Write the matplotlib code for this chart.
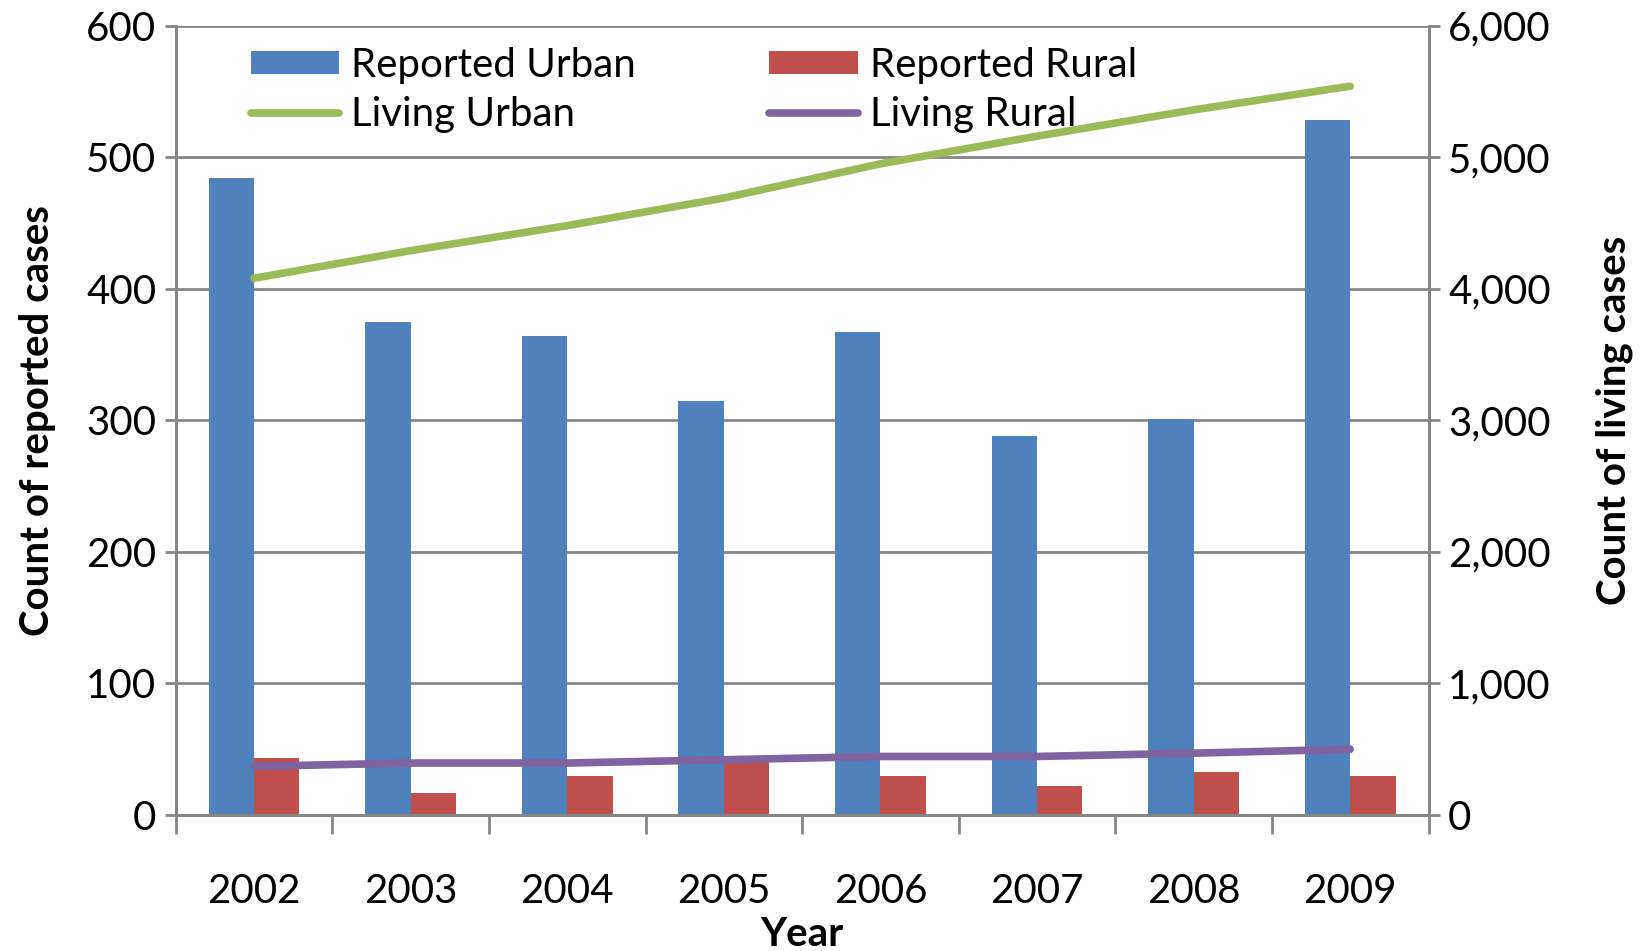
import numpy as np
import matplotlib.pyplot as plt
from matplotlib.ticker import FuncFormatter

years = ['2002', '2003', '2004', '2005', '2006', '2007', '2008', '2009']
reported_urban = [484, 375, 364, 315, 367, 288, 301, 528]
reported_rural = [43, 17, 30, 41, 30, 22, 33, 30]
living_urban = [4080, 4290, 4480, 4690, 4950, 5160, 5360, 5540]
living_rural = [370, 395, 395, 420, 445, 445, 470, 500]

plt.rcParams['font.family'] = ['Lato', 'DejaVu Sans']
grey = '#868686'
fs = 29

fig = plt.figure(figsize=(16.42, 9.51), dpi=100)
ax = fig.add_axes([0.107, 0.143, 0.763, 0.830])
ax2 = ax.twinx()

x = np.arange(len(years))
w = 0.29
b1 = ax.bar(x - w / 2, reported_urban, w, color='#4F81BD', label='Reported Urban', zorder=2)
b2 = ax.bar(x + w / 2, reported_rural, w, color='#C0504D', label='Reported Rural', zorder=2)
l1, = ax2.plot(x, living_urban, color='#9BBB59', lw=5.5, solid_capstyle='round', label='Living Urban')
l2, = ax2.plot(x, living_rural, color='#8064A2', lw=5.5, solid_capstyle='round', label='Living Rural')

ax.set_xlim(-0.5, len(years) - 0.5)
ax.set_ylim(0, 600)
ax.set_yticks(range(0, 601, 100))
ax2.set_ylim(0, 6000)
ax2.set_yticks(range(0, 6001, 1000))
ax2.yaxis.set_major_formatter(FuncFormatter(lambda v, p: f'{int(v):,}'))

ax.yaxis.grid(True, color=grey, lw=2, zorder=0)
ax.set_axisbelow(True)

for a in (ax, ax2):
    for s in a.spines.values():
        s.set_color(grey)
        s.set_linewidth(2)
ax.spines['top'].set_visible(False)
ax2.spines['top'].set_visible(False)

ax.set_xticks(x)
ax.set_xticklabels(years)
ax.tick_params(axis='x', length=0, pad=42, labelsize=fs)
ax.set_xticks(np.arange(-0.5, len(years)), minor=True)
ax.tick_params(axis='x', which='minor', length=14, width=2, color=grey, direction='out')
ax.tick_params(axis='y', length=8, width=2, color=grey, labelsize=fs, pad=6)
ax2.tick_params(axis='y', length=8, width=2, color=grey, labelsize=fs, pad=6)

ax.set_xlabel('Year', fontsize=fs, fontweight='bold', labelpad=4)
ax.set_ylabel('Count of reported cases', fontsize=fs, fontweight='bold', labelpad=22)
ax2.set_ylabel('Count of living cases', fontsize=fs, fontweight='bold', labelpad=32)

ax2.legend([b1, l1, b2, l2], ['Reported Urban', 'Living Urban', 'Reported Rural', 'Living Rural'],
           ncol=2, loc='upper left', bbox_to_anchor=(0.031, 1.019), frameon=False,
           fontsize=fs, handlelength=2.2, handleheight=0.5, handletextpad=0.3,
           columnspacing=3.3, labelspacing=0.3)

fig.savefig('out.png', dpi=100)
